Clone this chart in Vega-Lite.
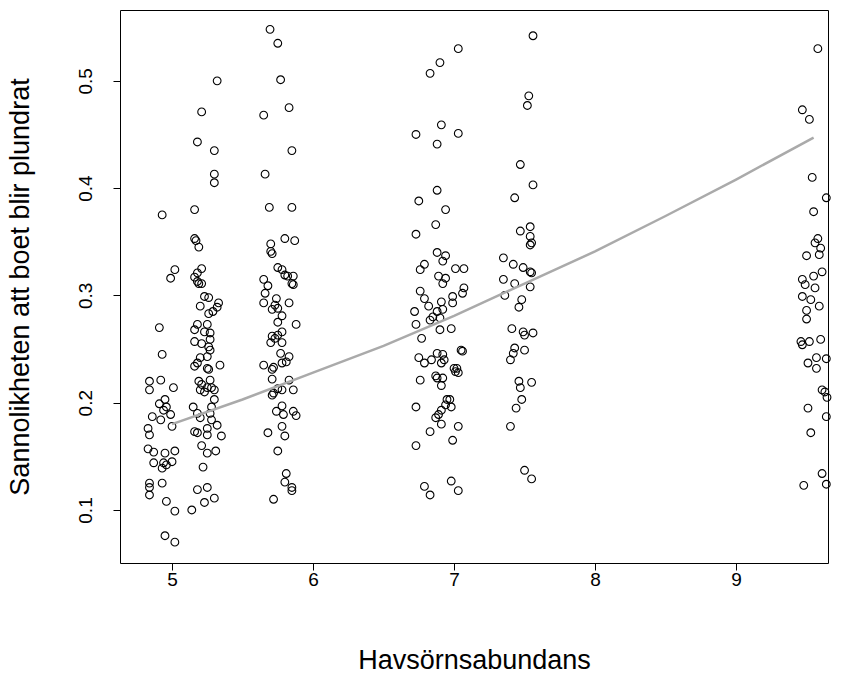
{
  "$schema": "https://vega.github.io/schema/vega-lite/v6.json",
  "autosize": {"type": "none"},
  "width": 708,
  "height": 553,
  "padding": {"left": 120, "top": 10, "right": 18, "bottom": 112},
  "background": "white",
  "config": {
    "view": {"stroke": "black", "strokeWidth": 1},
    "axis": {
      "grid": false, "domain": false, "tickColor": "black", "tickSize": 7, "tickWidth": 1,
      "labelFont": "Liberation Sans", "labelFontSize": 19, "labelColor": "black",
      "titleFont": "Liberation Sans", "titleFontSize": 27, "titleFontWeight": "normal", "titleColor": "black"
    }
  },
  "datasets": {
    "pts": [
      {"x":4.93,"y":0.375},{"x":4.91,"y":0.270},{"x":4.93,"y":0.245},{"x":4.84,"y":0.220},{"x":4.84,"y":0.212},{"x":4.92,"y":0.221},{"x":5.01,"y":0.214},{"x":5.02,"y":0.324},{"x":4.99,"y":0.316},
      {"x":4.91,"y":0.199},{"x":4.95,"y":0.203},{"x":4.96,"y":0.196},{"x":4.94,"y":0.193},{"x":4.99,"y":0.189},{"x":4.86,"y":0.187},{"x":4.92,"y":0.184},{"x":5.00,"y":0.178},{"x":4.83,"y":0.176},{"x":4.84,"y":0.170},
      {"x":4.83,"y":0.157},{"x":4.87,"y":0.154},{"x":4.95,"y":0.153},{"x":5.02,"y":0.155},{"x":4.87,"y":0.144},{"x":4.94,"y":0.144},{"x":4.93,"y":0.139},{"x":4.96,"y":0.142},{"x":5.00,"y":0.145},
      {"x":4.84,"y":0.125},{"x":4.84,"y":0.121},{"x":4.93,"y":0.125},{"x":4.84,"y":0.114},{"x":4.96,"y":0.108},{"x":5.02,"y":0.099},{"x":4.95,"y":0.076},{"x":5.02,"y":0.070},
      {"x":5.32,"y":0.500},{"x":5.21,"y":0.471},{"x":5.18,"y":0.443},{"x":5.30,"y":0.435},{"x":5.30,"y":0.413},{"x":5.30,"y":0.405},{"x":5.16,"y":0.380},
      {"x":5.16,"y":0.353},{"x":5.17,"y":0.351},{"x":5.19,"y":0.345},{"x":5.21,"y":0.325},{"x":5.18,"y":0.321},{"x":5.16,"y":0.317},{"x":5.19,"y":0.311},{"x":5.21,"y":0.311},{"x":5.18,"y":0.313},
      {"x":5.23,"y":0.299},{"x":5.26,"y":0.298},{"x":5.20,"y":0.290},{"x":5.33,"y":0.293},{"x":5.32,"y":0.289},{"x":5.29,"y":0.285},{"x":5.26,"y":0.283},
      {"x":5.18,"y":0.273},{"x":5.16,"y":0.268},{"x":5.25,"y":0.273},{"x":5.23,"y":0.266},{"x":5.27,"y":0.265},{"x":5.27,"y":0.259},{"x":5.16,"y":0.257},{"x":5.21,"y":0.255},{"x":5.26,"y":0.252},{"x":5.27,"y":0.249},{"x":5.20,"y":0.242},{"x":5.25,"y":0.243},{"x":5.18,"y":0.237},{"x":5.16,"y":0.234},{"x":5.25,"y":0.232},{"x":5.26,"y":0.231},{"x":5.34,"y":0.235},
      {"x":5.19,"y":0.220},{"x":5.27,"y":0.221},{"x":5.21,"y":0.217},{"x":5.25,"y":0.214},{"x":5.28,"y":0.214},{"x":5.23,"y":0.210},{"x":5.30,"y":0.212},{"x":5.20,"y":0.212},
      {"x":5.30,"y":0.203},{"x":5.28,"y":0.196},{"x":5.15,"y":0.196},{"x":5.18,"y":0.190},{"x":5.27,"y":0.190},{"x":5.20,"y":0.186},{"x":5.28,"y":0.184},
      {"x":5.16,"y":0.173},{"x":5.18,"y":0.172},{"x":5.25,"y":0.176},{"x":5.32,"y":0.179},{"x":5.25,"y":0.170},{"x":5.35,"y":0.169},
      {"x":5.21,"y":0.160},{"x":5.25,"y":0.153},{"x":5.31,"y":0.155},{"x":5.22,"y":0.140},{"x":5.18,"y":0.119},{"x":5.25,"y":0.121},{"x":5.23,"y":0.107},{"x":5.30,"y":0.111},{"x":5.14,"y":0.100},
      {"x":5.695,"y":0.548},{"x":5.75,"y":0.535},{"x":5.77,"y":0.501},{"x":5.83,"y":0.475},{"x":5.65,"y":0.468},{"x":5.85,"y":0.435},{"x":5.66,"y":0.413},{"x":5.69,"y":0.382},{"x":5.85,"y":0.382},
      {"x":5.80,"y":0.353},{"x":5.87,"y":0.351},{"x":5.70,"y":0.348},{"x":5.70,"y":0.341},{"x":5.71,"y":0.339},
      {"x":5.75,"y":0.326},{"x":5.78,"y":0.324},{"x":5.80,"y":0.319},{"x":5.86,"y":0.318},{"x":5.82,"y":0.318},{"x":5.65,"y":0.315},{"x":5.68,"y":0.309},{"x":5.86,"y":0.310},{"x":5.85,"y":0.311},
      {"x":5.66,"y":0.302},{"x":5.65,"y":0.293},{"x":5.74,"y":0.297},{"x":5.73,"y":0.291},{"x":5.71,"y":0.287},{"x":5.75,"y":0.288},{"x":5.78,"y":0.281},{"x":5.83,"y":0.293},{"x":5.88,"y":0.273},{"x":5.75,"y":0.275},
      {"x":5.71,"y":0.262},{"x":5.73,"y":0.260},{"x":5.75,"y":0.263},{"x":5.78,"y":0.266},{"x":5.70,"y":0.256},{"x":5.78,"y":0.256},
      {"x":5.77,"y":0.246},{"x":5.83,"y":0.243},{"x":5.81,"y":0.238},{"x":5.78,"y":0.237},{"x":5.65,"y":0.235},{"x":5.72,"y":0.233},{"x":5.71,"y":0.231},
      {"x":5.71,"y":0.222},{"x":5.83,"y":0.221},{"x":5.75,"y":0.213},{"x":5.78,"y":0.212},{"x":5.86,"y":0.212},{"x":5.72,"y":0.209},{"x":5.71,"y":0.207},
      {"x":5.78,"y":0.197},{"x":5.74,"y":0.192},{"x":5.79,"y":0.189},{"x":5.86,"y":0.192},{"x":5.88,"y":0.188},{"x":5.78,"y":0.178},{"x":5.68,"y":0.172},{"x":5.80,"y":0.169},{"x":5.75,"y":0.155},
      {"x":5.81,"y":0.134},{"x":5.80,"y":0.126},{"x":5.85,"y":0.121},{"x":5.85,"y":0.118},{"x":5.72,"y":0.110},
      {"x":7.03,"y":0.530},{"x":6.90,"y":0.517},{"x":6.83,"y":0.507},{"x":6.91,"y":0.459},{"x":6.73,"y":0.450},{"x":6.88,"y":0.441},{"x":7.03,"y":0.451},{"x":6.88,"y":0.398},{"x":6.75,"y":0.388},{"x":6.94,"y":0.380},{"x":6.87,"y":0.366},{"x":6.73,"y":0.357},
      {"x":6.88,"y":0.340},{"x":6.94,"y":0.337},{"x":6.92,"y":0.332},{"x":7.01,"y":0.325},{"x":7.07,"y":0.325},{"x":6.79,"y":0.329},{"x":6.76,"y":0.324},
      {"x":6.89,"y":0.318},{"x":6.94,"y":0.316},{"x":6.92,"y":0.311},{"x":7.07,"y":0.307},{"x":6.76,"y":0.304},
      {"x":7.06,"y":0.302},{"x":6.99,"y":0.299},{"x":6.99,"y":0.293},{"x":6.79,"y":0.297},{"x":6.82,"y":0.290},{"x":6.91,"y":0.294},{"x":6.72,"y":0.285},{"x":6.88,"y":0.285},{"x":6.92,"y":0.287},{"x":6.85,"y":0.280},{"x":6.83,"y":0.277},{"x":6.90,"y":0.279},{"x":6.73,"y":0.273},{"x":6.90,"y":0.268},{"x":6.98,"y":0.269},{"x":6.77,"y":0.260},
      {"x":7.05,"y":0.249},{"x":7.06,"y":0.248},{"x":6.75,"y":0.242},{"x":6.79,"y":0.237},{"x":6.84,"y":0.240},{"x":6.88,"y":0.246},{"x":6.92,"y":0.245},{"x":6.93,"y":0.240},{"x":6.91,"y":0.237},{"x":7.00,"y":0.232},{"x":7.02,"y":0.232},{"x":7.03,"y":0.228},{"x":7.01,"y":0.229},
      {"x":6.87,"y":0.225},{"x":6.88,"y":0.223},{"x":6.92,"y":0.223},{"x":6.91,"y":0.216},{"x":6.76,"y":0.221},
      {"x":6.95,"y":0.203},{"x":6.97,"y":0.203},{"x":6.94,"y":0.198},{"x":6.98,"y":0.196},{"x":6.91,"y":0.193},{"x":6.89,"y":0.189},{"x":6.87,"y":0.186},{"x":6.91,"y":0.180},{"x":6.73,"y":0.196},
      {"x":7.03,"y":0.178},{"x":6.83,"y":0.173},{"x":6.99,"y":0.165},{"x":6.73,"y":0.160},{"x":6.98,"y":0.127},{"x":7.03,"y":0.118},{"x":6.79,"y":0.122},{"x":6.83,"y":0.114},
      {"x":7.56,"y":0.542},{"x":7.53,"y":0.486},{"x":7.52,"y":0.477},{"x":7.47,"y":0.422},{"x":7.56,"y":0.403},{"x":7.43,"y":0.391},
      {"x":7.47,"y":0.360},{"x":7.54,"y":0.364},{"x":7.54,"y":0.355},{"x":7.55,"y":0.349},{"x":7.54,"y":0.347},
      {"x":7.35,"y":0.335},{"x":7.42,"y":0.329},{"x":7.49,"y":0.326},{"x":7.54,"y":0.322},{"x":7.55,"y":0.321},{"x":7.35,"y":0.315},{"x":7.43,"y":0.311},{"x":7.54,"y":0.308},
      {"x":7.36,"y":0.300},{"x":7.48,"y":0.296},{"x":7.46,"y":0.289},
      {"x":7.41,"y":0.269},{"x":7.49,"y":0.266},{"x":7.50,"y":0.263},{"x":7.56,"y":0.265},{"x":7.43,"y":0.251},{"x":7.50,"y":0.249},{"x":7.42,"y":0.246},{"x":7.40,"y":0.240},
      {"x":7.46,"y":0.220},{"x":7.47,"y":0.214},{"x":7.55,"y":0.219},{"x":7.48,"y":0.203},{"x":7.44,"y":0.195},{"x":7.40,"y":0.178},{"x":7.50,"y":0.137},{"x":7.55,"y":0.129},
      {"x":9.58,"y":0.530},{"x":9.47,"y":0.473},{"x":9.52,"y":0.464},{"x":9.54,"y":0.410},{"x":9.64,"y":0.391},{"x":9.55,"y":0.378},
      {"x":9.58,"y":0.353},{"x":9.56,"y":0.349},{"x":9.60,"y":0.344},{"x":9.59,"y":0.338},{"x":9.50,"y":0.337},
      {"x":9.61,"y":0.322},{"x":9.55,"y":0.318},{"x":9.47,"y":0.315},{"x":9.49,"y":0.310},{"x":9.56,"y":0.307},
      {"x":9.47,"y":0.299},{"x":9.53,"y":0.296},{"x":9.59,"y":0.290},{"x":9.50,"y":0.286},{"x":9.50,"y":0.278},
      {"x":9.46,"y":0.257},{"x":9.47,"y":0.254},{"x":9.52,"y":0.257},{"x":9.60,"y":0.259},{"x":9.51,"y":0.237},{"x":9.57,"y":0.242},{"x":9.64,"y":0.241},{"x":9.57,"y":0.232},
      {"x":9.61,"y":0.212},{"x":9.63,"y":0.210},{"x":9.645,"y":0.205},{"x":9.51,"y":0.195},{"x":9.64,"y":0.187},{"x":9.53,"y":0.172},
      {"x":9.61,"y":0.134},{"x":9.64,"y":0.124},{"x":9.48,"y":0.123}
    ],
    "fit": [
      {"x":5.0,"y":0.180},{"x":5.5,"y":0.203},{"x":6.0,"y":0.228},{"x":6.5,"y":0.253},{"x":7.0,"y":0.281},
      {"x":7.5,"y":0.311},{"x":8.0,"y":0.341},{"x":8.5,"y":0.374},{"x":9.0,"y":0.408},{"x":9.55,"y":0.447}
    ]
  },
  "layer": [
    {
      "data": {"name": "pts"},
      "mark": {"type": "point", "shape": "circle", "filled": false, "stroke": "black", "strokeWidth": 1.1, "size": 60, "opacity": 1},
      "encoding": {
        "x": {"field": "x", "type": "quantitative",
          "scale": {"domain": [4.631, 9.652], "nice": false, "zero": false},
          "axis": {"values": [5, 6, 7, 8, 9], "format": "d", "labelPadding": 0, "title": "Havsörnsabundans", "titlePadding": 58}},
        "y": {"field": "y", "type": "quantitative",
          "scale": {"domain": [0.0506, 0.566], "nice": false, "zero": false},
          "axis": {"values": [0.1, 0.2, 0.3, 0.4, 0.5], "format": ".1f", "labelAngle": -90, "labelAlign": "center", "labelBaseline": "bottom", "labelPadding": 18, "title": "Sannolikheten att boet blir plundrat", "titlePadding": 42}}
      }
    },
    {
      "data": {"name": "fit"},
      "mark": {"type": "line", "color": "#aaaaaa", "strokeWidth": 2.5},
      "encoding": {
        "x": {"field": "x", "type": "quantitative"},
        "y": {"field": "y", "type": "quantitative"}
      }
    }
  ]
}
